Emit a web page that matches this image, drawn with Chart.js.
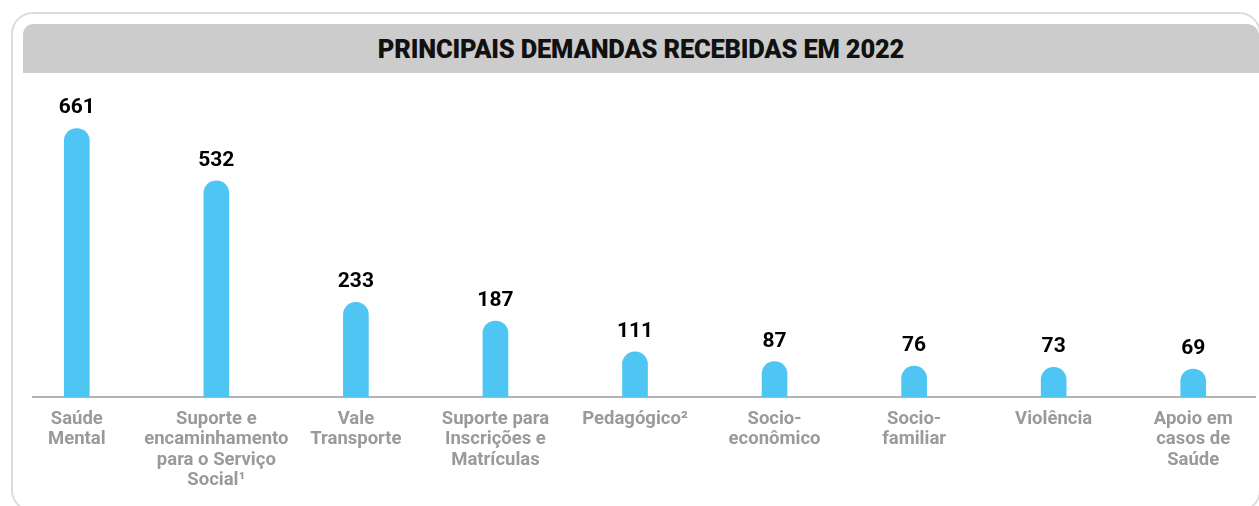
<!DOCTYPE html>
<html lang="pt">
<head>
  <meta charset="UTF-8">
  <title>Principais demandas recebidas em 2022</title>
  <script src="https://cdn.jsdelivr.net/npm/chart.js"></script>
  <style>
    html, body {
      margin: 0;
      padding: 0;
      width: 1259px;
      height: 506px;
      overflow: hidden;
      background: #fff;
      font-family: 'Roboto', sans-serif;
    }
    .card {
      position: absolute;
      left: 11px; top: 12px;
      width: 1250px; height: 500px;
      border: 2px solid #dcdcdc;
      border-radius: 22px;
      box-sizing: border-box;
    }
    .header {
      position: absolute;
      left: 23px; top: 24px;
      width: 1236px; height: 49px;
      background: #cccccc;
      border-radius: 10px 12px 0 0;
      text-align: center;
      line-height: 50px;
      font-size: 25.5px;
      font-weight: 900;
      color: #111;
      letter-spacing: -0.2px;
    }
    #chart {
      position: absolute;
      left: 0; top: 0;
    }
  </style>
</head>
<body>
  <div class="card"></div>
  <div class="header">PRINCIPAIS DEMANDAS RECEBIDAS EM 2022</div>
  <canvas id="chart" width="1270" height="506"></canvas>

  <script>
    const categories = [
      ['Saúde', 'Mental'],
      ['Suporte e', 'encaminhamento', 'para o Serviço', 'Social¹'],
      ['Vale', 'Transporte'],
      ['Suporte para', 'Inscrições e', 'Matrículas'],
      ['Pedagógico²'],
      ['Socio-', 'econômico'],
      ['Socio-', 'familiar'],
      ['Violência'],
      ['Apoio em', 'casos de', 'Saúde']
    ];
    const demandas = [661, 532, 233, 187, 111, 87, 76, 73, 69];

    // rótulos de valor acima das barras
    const valueLabels = {
      id: 'valueLabels',
      afterDatasetsDraw(chart) {
        const ctx = chart.ctx;
        const meta = chart.getDatasetMeta(0);
        ctx.save();
        ctx.font = 'bold 21px Roboto, sans-serif';
        ctx.fillStyle = '#000';
        ctx.textAlign = 'center';
        ctx.textBaseline = 'alphabetic';
        meta.data.forEach((bar, i) => {
          ctx.fillText(demandas[i], bar.x, bar.y - 15);
        });
        ctx.restore();
      }
    };

    // linha de base
    const baseLine = {
      id: 'baseLine',
      beforeDatasetsDraw(chart) {
        const ctx = chart.ctx;
        const area = chart.chartArea;
        const y = chart.scales.y.getPixelForValue(0);
        ctx.save();
        ctx.strokeStyle = '#9a9a9a';
        ctx.lineWidth = 1.5;
        ctx.beginPath();
        ctx.moveTo(area.left + 25, y);
        ctx.lineTo(area.right - 7, y);
        ctx.stroke();
        ctx.restore();
      }
    };

    new Chart(document.getElementById('chart'), {
      type: 'bar',
      data: {
        labels: categories,
        datasets: [{
          data: demandas,
          backgroundColor: '#4ec5f2',
          barThickness: 25,
          borderRadius: { topLeft: 13, topRight: 13, bottomLeft: 0, bottomRight: 0 },
          borderSkipped: 'bottom'
        }]
      },
      options: {
        responsive: false,
        animation: false,
        devicePixelRatio: 1,
        layout: { padding: { left: 7, right: 7, top: 72, bottom: 0 } },
        plugins: {
          legend: { display: false },
          tooltip: { enabled: false }
        },
        scales: {
          x: {
            grid: { display: false, drawTicks: false },
            border: { display: false },
            ticks: {
              color: '#9a9a9a',
              font: { family: 'Roboto', size: 18.5, weight: 'bold', lineHeight: 1.1 },
              padding: 12,
              maxRotation: 0,
              autoSkip: false
            },
            afterFit(scale) { scale.height = 109; }
          },
          y: {
            display: false,
            min: 0,
            max: 800
          }
        }
      },
      plugins: [baseLine, valueLabels]
    });
  </script>
</body>
</html>
